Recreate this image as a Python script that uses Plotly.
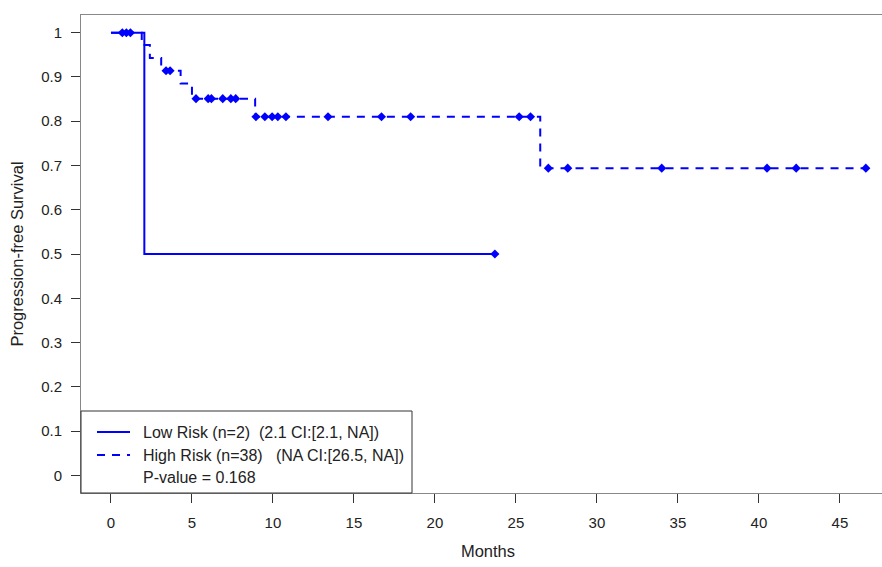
import plotly.graph_objects as go

# ---- data ----
low_risk_times = [0, 2.06, 23.7]
low_risk_surv = [1.0, 0.5, 0.5]
low_risk_censor_times = [23.7]

high_risk_times = [0, 1.9, 2.4, 3.1, 4.3, 5.0, 8.9, 26.5, 46.6]
high_risk_surv = [1.0, 0.972, 0.943, 0.914, 0.885, 0.851, 0.810, 0.694, 0.694]
high_risk_censor_times = [0.7, 0.95, 1.2, 3.4, 3.65, 5.25, 6.0, 6.2, 6.9, 7.4, 7.7,
                          8.95, 9.5, 9.95, 10.3, 10.8, 13.4, 16.7, 18.5, 25.2, 25.9,
                          27.0, 28.2, 34.0, 40.5, 42.3, 46.6]

x_ticks = [0, 5, 10, 15, 20, 25, 30, 35, 40, 45]
y_ticks = [0, 0.1, 0.2, 0.3, 0.4, 0.5, 0.6, 0.7, 0.8, 0.9, 1.0]
y_tick_labels = ["0", "0.1", "0.2", "0.3", "0.4", "0.5", "0.6", "0.7", "0.8", "0.9", "1"]

legend_labels = ["Low Risk (n=2)\u00a0\u00a0(2.1 CI:[2.1, NA])",
                 "High Risk (n=38)\u00a0\u00a0\u00a0(NA CI:[26.5, NA])",
                 "P-value = 0.168"]


def step_value(times, surv, t):
    v = surv[0]
    for ti, si in zip(times, surv):
        if ti <= t:
            v = si
    return v


BLUE = "#0000FF"
FONT = "Liberation Sans, Arial, sans-serif"
DASH = "8px,7px"
TXT = "#222222"

fig = go.Figure()

fig.add_trace(go.Scatter(x=high_risk_times, y=high_risk_surv, mode="lines",
                         line=dict(color=BLUE, width=2, shape="hv", dash=DASH),
                         showlegend=False, hoverinfo="skip"))
fig.add_trace(go.Scatter(x=high_risk_censor_times,
                         y=[step_value(high_risk_times, high_risk_surv, t) for t in high_risk_censor_times],
                         mode="markers", marker=dict(symbol="diamond", size=7, color=BLUE),
                         showlegend=False))
fig.add_trace(go.Scatter(x=low_risk_times, y=low_risk_surv, mode="lines",
                         line=dict(color=BLUE, width=2, shape="hv"),
                         showlegend=False, hoverinfo="skip"))
fig.add_trace(go.Scatter(x=low_risk_censor_times,
                         y=[step_value(low_risk_times, low_risk_surv, t) for t in low_risk_censor_times],
                         mode="markers", marker=dict(symbol="diamond", size=7, color=BLUE),
                         showlegend=False))

# ---- legend box (drawn like R's legend) ----
# the original plot region runs past the right edge of the 882px image
W, H = 895, 567
ML, MR, MT, MB = 81, 0, 15, 74
pw, ph = W - ML - MR, H - MT - MB


def px(xp):
    return (xp - ML) / pw


def py(yp):
    return (H - MB - yp) / ph


shapes = [
    dict(type="rect", xref="paper", yref="paper", x0=px(81), x1=px(412), y0=py(493), y1=py(411),
         line=dict(color="#333333", width=1), fillcolor="white", layer="above"),
    dict(type="line", xref="paper", yref="paper", x0=px(97), x1=px(130), y0=py(432), y1=py(432),
         line=dict(color=BLUE, width=2), layer="above"),
    dict(type="line", xref="paper", yref="paper", x0=px(97), x1=px(130), y0=py(455), y1=py(455),
         line=dict(color=BLUE, width=2, dash=DASH), layer="above"),
]
annotations = []
for lbl, yy in zip(legend_labels, [432, 455, 477]):
    annotations.append(dict(text=lbl, xref="paper", yref="paper", x=px(141), y=py(yy),
                            xanchor="left", yanchor="middle", showarrow=False,
                            font=dict(family=FONT, size=16, color=TXT)))

fig.update_layout(
    width=W, height=H,
    margin=dict(l=ML, r=MR, t=MT, b=MB, autoexpand=False),
    paper_bgcolor="white", plot_bgcolor="white",
    font=dict(family=FONT, size=15, color=TXT),
    shapes=shapes, annotations=annotations,
    showlegend=False,
    xaxis=dict(range=[-1.85, 48.4], tickvals=x_ticks, ticks="outside", ticklen=9,
               tickcolor="#333333", showline=True, linecolor="#888888", linewidth=1,
               mirror=True, showgrid=False, zeroline=False, ticklabelstandoff=7,
               tickfont=dict(family=FONT, size=15, color=TXT),
               title=dict(text="Months", font=dict(family=FONT, size=16.5, color=TXT),
                          standoff=15)),
    yaxis=dict(range=[-0.04, 1.04], tickvals=y_ticks, ticktext=y_tick_labels,
               ticks="outside", ticklen=9, tickcolor="#333333", showline=True,
               linecolor="#888888", linewidth=1, mirror=False, showgrid=False, zeroline=False,
               ticklabelstandoff=6,
               tickfont=dict(family=FONT, size=15, color=TXT),
               title=dict(text="Progression-free Survival",
                          font=dict(family=FONT, size=16.5, color=TXT), standoff=13)),
)

fig.write_html("out.html", config={"displayModeBar": False},
               post_script="document.body.style.margin='0';document.body.style.overflow='hidden';")
